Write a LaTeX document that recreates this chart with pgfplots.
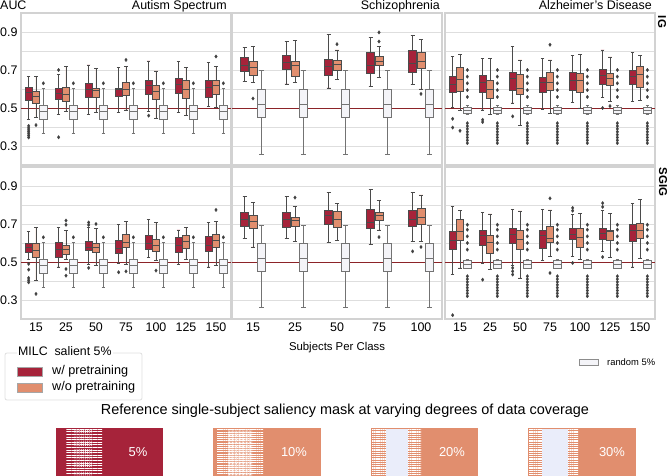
\documentclass[border=0pt]{standalone}
\usepackage{fontspec}
\setmainfont{Liberation Sans}
\usepackage{pgfplots}
\pgfplotsset{compat=1.18}
\usepgfplotslibrary{statistics}
\usetikzlibrary{patterns.meta}

\definecolor{cRed}{RGB}{166,35,58}
\definecolor{cSal}{RGB}{225,142,110}
\definecolor{cWht}{RGB}{244,244,248}
\definecolor{cLav}{RGB}{234,237,250}
\definecolor{cHalf}{RGB}{140,35,40}
\definecolor{gridc}{RGB}{222,222,222}
\definecolor{framec}{RGB}{210,210,210}
\definecolor{edgec}{RGB}{75,75,75}

\pgfplotsset{
  panel/.style={scale only axis, anchor=north west, width=210bp, height=152bp,
    ymin=0.2, ymax=1.0, ytick={0.3,0.5,0.7,0.9}, minor ytick={0.4,0.6,0.8},
    ymajorgrids, yminorgrids,
    major grid style={draw=gridc, line width=0.9pt},
    minor grid style={draw=gridc, line width=0.9pt},
    axis line style={draw=framec, line width=1.1pt},
    major tick length=0pt, minor tick length=0pt,
    tick label style={font=\fontsize{12.5}{14}\selectfont},
    /pgf/number format/assume math mode=true,
    yticklabel style={/pgf/number format/fixed, /pgf/number format/precision=1},
    boxplot/draw direction=y},
  seven/.style={xmin=-0.5, xmax=6.5, xtick={0,...,6},
    boxplot/box extend=0.24, boxplot/whisker extend=0.12},
  five/.style={xmin=-0.5, xmax=4.5, xtick={0,...,4},
    boxplot/box extend=0.19, boxplot/whisker extend=0.1},
  wp/.style={draw=edgec, fill=cRed, line width=0.7pt, mark=diamond*, mark size=1.8pt,
    mark options={draw=black!75, fill=black!75, line width=0.2pt}},
  np/.style={wp, fill=cSal},
  rp/.style={wp, draw=black!55, fill=cWht},
  half/.style={cHalf, line width=0.7pt, forget plot},
}
% style, position, lower whisker, lower quartile, median, upper quartile, upper whisker
\newcommand{\bx}[7]{\addplot[#1, boxplot prepared={draw position=#2, lower whisker=#3,
  lower quartile=#4, median=#5, upper quartile=#6, upper whisker=#7}] coordinates}

\begin{document}
\begin{tikzpicture}
\path[use as bounding box] (0,0) rectangle (668bp,-476bp);

% ---------------- row 1: IG ----------------
\begin{axis}[panel, seven, at={(21bp,-13bp)}, xticklabels={}]
\addplot[half] coordinates {(-0.5,0.5) (6.5,0.5)};
\bx{wp}{-0.245}{0.438}{0.540}{0.580}{0.611}{0.664}{(0,0.406)(0,0.395)(0,0.385)(0,0.375)(0,0.365)(0,0.355)(0,0.345)};
\bx{np}{0}{0.450}{0.523}{0.562}{0.588}{0.668}{(0,0.41)};
\bx{wp}{0.755}{0.465}{0.544}{0.576}{0.606}{0.677}{(1,0.70)(1,0.346)};
\bx{np}{1}{0.480}{0.534}{0.570}{0.611}{0.720}{};
\bx{wp}{1.755}{0.465}{0.558}{0.597}{0.630}{0.727}{};
\bx{np}{2}{0.477}{0.558}{0.594}{0.606}{0.707}{};
\bx{wp}{2.755}{0.477}{0.562}{0.597}{0.606}{0.712}{};
\bx{np}{3}{0.490}{0.567}{0.600}{0.633}{0.720}{(3,0.753)};
\bx{wp}{3.755}{0.480}{0.574}{0.619}{0.645}{0.748}{(4,0.46)};
\bx{np}{4}{0.447}{0.548}{0.588}{0.619}{0.695}{};
\bx{wp}{4.755}{0.477}{0.576}{0.624}{0.654}{0.744}{};
\bx{np}{5}{0.460}{0.550}{0.600}{0.647}{0.712}{};
\bx{wp}{5.755}{0.509}{0.558}{0.611}{0.647}{0.739}{};
\bx{np}{6}{0.505}{0.574}{0.619}{0.647}{0.720}{(6,0.771)};
\bx{rp}{0.245}{0.364}{0.438}{0.482}{0.512}{0.606}{(0,0.63)};
\bx{rp}{1.245}{0.364}{0.438}{0.482}{0.512}{0.606}{(1,0.63)};
\bx{rp}{2.245}{0.364}{0.438}{0.482}{0.512}{0.606}{(2,0.63)};
\bx{rp}{3.245}{0.364}{0.438}{0.482}{0.512}{0.606}{(3,0.63)};
\bx{rp}{4.245}{0.364}{0.438}{0.482}{0.512}{0.606}{(4,0.63)};
\bx{rp}{5.245}{0.364}{0.438}{0.482}{0.512}{0.606}{(5,0.63)};
\bx{rp}{6.245}{0.364}{0.438}{0.482}{0.512}{0.606}{(6,0.63)};
\end{axis}

\begin{axis}[panel, five, at={(232bp,-13bp)}, xticklabels={}, yticklabels={}]
\addplot[half] coordinates {(-0.5,0.5) (4.5,0.5)};
\bx{wp}{-0.2}{0.642}{0.695}{0.725}{0.769}{0.818}{};
\bx{np}{0}{0.636}{0.672}{0.716}{0.748}{0.822}{(0,0.55)};
\bx{wp}{0.8}{0.627}{0.703}{0.739}{0.778}{0.849}{};
\bx{np}{1}{0.633}{0.668}{0.725}{0.748}{0.854}{};
\bx{wp}{1.8}{0.606}{0.672}{0.721}{0.756}{0.889}{};
\bx{np}{2}{0.650}{0.698}{0.730}{0.751}{0.806}{(2,0.836)};
\bx{wp}{2.8}{0.615}{0.682}{0.727}{0.792}{0.872}{};
\bx{np}{3}{0.659}{0.725}{0.748}{0.774}{0.822}{(3,0.85)(3,0.898)};
\bx{wp}{3.8}{0.624}{0.689}{0.735}{0.806}{0.884}{};
\bx{np}{4}{0.600}{0.707}{0.748}{0.792}{0.859}{(4,0.574)};
\bx{rp}{0.2}{0.258}{0.452}{0.518}{0.600}{0.698}{};
\bx{rp}{1.2}{0.258}{0.452}{0.518}{0.600}{0.698}{};
\bx{rp}{2.2}{0.258}{0.452}{0.518}{0.600}{0.698}{};
\bx{rp}{3.2}{0.258}{0.452}{0.518}{0.600}{0.698}{};
\bx{rp}{4.2}{0.258}{0.452}{0.518}{0.600}{0.698}{};
\end{axis}

\begin{axis}[panel, seven, at={(445bp,-13bp)}, xticklabels={}, yticklabels={}]
\addplot[half] coordinates {(-0.5,0.5) (6.5,0.5)};
\bx{wp}{-0.245}{0.505}{0.580}{0.624}{0.668}{0.770}{(0,0.443)(0,0.397)};
\bx{np}{0}{0.488}{0.588}{0.650}{0.716}{0.783}{(0,0.38)};
\bx{wp}{0.755}{0.490}{0.580}{0.636}{0.672}{0.760}{(1,0.438)(1,0.426)};
\bx{np}{1}{0.465}{0.553}{0.600}{0.645}{0.760}{};
\bx{wp}{1.755}{0.527}{0.594}{0.657}{0.686}{0.822}{(2,0.456)};
\bx{np}{2}{0.410}{0.571}{0.606}{0.677}{0.753}{};
\bx{wp}{2.755}{0.495}{0.580}{0.633}{0.659}{0.760}{};
\bx{np}{3}{0.473}{0.594}{0.633}{0.689}{0.753}{(3,0.833)};
\bx{wp}{3.755}{0.530}{0.594}{0.645}{0.690}{0.778}{};
\bx{np}{4}{0.500}{0.583}{0.647}{0.680}{0.780}{};
\bx{wp}{4.755}{0.557}{0.624}{0.672}{0.703}{0.806}{(5,0.50)};
\bx{np}{5}{0.535}{0.619}{0.654}{0.682}{0.769}{(5,0.51)};
\bx{wp}{5.755}{0.535}{0.624}{0.668}{0.700}{0.792}{};
\bx{np}{6}{0.539}{0.611}{0.677}{0.718}{0.778}{};
\bx{rp}{0.245}{0.465}{0.472}{0.490}{0.505}{0.512}{(0,0.558)(0,0.594)(0,0.63)(0,0.665)(0,0.70)(0,0.42)(0,0.405)(0,0.39)(0,0.375)(0,0.36)(0,0.345)(0,0.33)(0,0.315)};
\bx{rp}{1.245}{0.465}{0.472}{0.490}{0.505}{0.512}{(1,0.558)(1,0.594)(1,0.63)(1,0.665)(1,0.70)(1,0.42)(1,0.405)(1,0.39)(1,0.375)(1,0.36)(1,0.345)(1,0.33)(1,0.315)};
\bx{rp}{2.245}{0.465}{0.472}{0.490}{0.505}{0.512}{(2,0.558)(2,0.594)(2,0.63)(2,0.665)(2,0.70)(2,0.42)(2,0.405)(2,0.39)(2,0.375)(2,0.36)(2,0.345)(2,0.33)(2,0.315)};
\bx{rp}{3.245}{0.465}{0.472}{0.490}{0.505}{0.512}{(3,0.558)(3,0.594)(3,0.63)(3,0.665)(3,0.70)(3,0.42)(3,0.405)(3,0.39)(3,0.375)(3,0.36)(3,0.345)(3,0.33)(3,0.315)};
\bx{rp}{4.245}{0.465}{0.472}{0.490}{0.505}{0.512}{(4,0.558)(4,0.594)(4,0.63)(4,0.665)(4,0.70)(4,0.42)(4,0.405)(4,0.39)(4,0.375)(4,0.36)(4,0.345)(4,0.33)(4,0.315)};
\bx{rp}{5.245}{0.465}{0.472}{0.490}{0.505}{0.512}{(5,0.558)(5,0.594)(5,0.63)(5,0.665)(5,0.70)(5,0.42)(5,0.405)(5,0.39)(5,0.375)(5,0.36)(5,0.345)(5,0.33)(5,0.315)};
\bx{rp}{6.245}{0.465}{0.472}{0.490}{0.505}{0.512}{(6,0.558)(6,0.594)(6,0.63)(6,0.665)(6,0.70)(6,0.42)(6,0.405)(6,0.39)(6,0.375)(6,0.36)(6,0.345)(6,0.33)(6,0.315)};
\end{axis}

% ---------------- row 2: SGIG ----------------
\begin{axis}[panel, seven, at={(21bp,-167bp)}, xticklabels={15,25,50,75,100,125,150}]
\addplot[half] coordinates {(-0.5,0.5) (6.5,0.5)};
\bx{wp}{-0.245}{0.512}{0.551}{0.579}{0.596}{0.660}{(0,0.49)(0,0.46)(0,0.416)(0,0.404)(0,0.393)};
\bx{np}{0}{0.404}{0.524}{0.561}{0.596}{0.683}{(0,0.332)};
\bx{wp}{0.755}{0.474}{0.526}{0.565}{0.603}{0.680}{};
\bx{np}{1}{0.512}{0.542}{0.568}{0.590}{0.666}{(1,0.718)(1,0.696)(1,0.463)(1,0.428)};
\bx{wp}{1.755}{0.486}{0.559}{0.579}{0.607}{0.680}{(2,0.708)(2,0.695)(2,0.469)};
\bx{np}{2}{0.480}{0.552}{0.579}{0.600}{0.678}{(2,0.70)};
\bx{wp}{2.755}{0.495}{0.547}{0.573}{0.612}{0.696}{(3,0.446)};
\bx{np}{3}{0.486}{0.579}{0.605}{0.648}{0.713}{(3,0.451)};
\bx{wp}{3.755}{0.526}{0.568}{0.596}{0.640}{0.722}{};
\bx{np}{4}{0.507}{0.556}{0.590}{0.620}{0.710}{(4,0.455)};
\bx{wp}{4.755}{0.486}{0.552}{0.590}{0.629}{0.669}{};
\bx{np}{5}{0.512}{0.573}{0.608}{0.638}{0.683}{};
\bx{wp}{5.755}{0.474}{0.556}{0.590}{0.634}{0.708}{};
\bx{np}{6}{0.480}{0.579}{0.612}{0.648}{0.713}{(6,0.774)};
\bx{rp}{0.245}{0.364}{0.438}{0.482}{0.512}{0.606}{(0,0.63)};
\bx{rp}{1.245}{0.364}{0.438}{0.482}{0.512}{0.606}{(1,0.63)};
\bx{rp}{2.245}{0.364}{0.438}{0.482}{0.512}{0.606}{(2,0.63)};
\bx{rp}{3.245}{0.364}{0.438}{0.482}{0.512}{0.606}{(3,0.63)};
\bx{rp}{4.245}{0.364}{0.438}{0.482}{0.512}{0.606}{(4,0.63)};
\bx{rp}{5.245}{0.364}{0.438}{0.482}{0.512}{0.606}{(5,0.63)};
\bx{rp}{6.245}{0.364}{0.438}{0.482}{0.512}{0.606}{(6,0.63)};
\end{axis}

\begin{axis}[panel, five, at={(232bp,-167bp)}, xticklabels={15,25,50,75,100}, yticklabels={}]
\addplot[half] coordinates {(-0.5,0.5) (4.5,0.5)};
\bx{wp}{-0.2}{0.622}{0.687}{0.725}{0.760}{0.844}{};
\bx{np}{0}{0.579}{0.678}{0.713}{0.748}{0.814}{};
\bx{wp}{0.8}{0.626}{0.682}{0.722}{0.760}{0.844}{};
\bx{np}{1}{0.608}{0.687}{0.718}{0.736}{0.792}{(1,0.839)};
\bx{wp}{1.8}{0.603}{0.699}{0.743}{0.771}{0.867}{};
\bx{np}{2}{0.612}{0.682}{0.725}{0.766}{0.809}{};
\bx{wp}{2.8}{0.594}{0.675}{0.710}{0.778}{0.883}{};
\bx{np}{3}{0.669}{0.718}{0.743}{0.762}{0.823}{(3,0.631)};
\bx{wp}{3.8}{0.608}{0.687}{0.722}{0.771}{0.865}{(4,0.556)};
\bx{np}{4}{0.608}{0.696}{0.736}{0.780}{0.853}{(4,0.579)};
\bx{rp}{0.2}{0.262}{0.451}{0.517}{0.600}{0.692}{};
\bx{rp}{1.2}{0.262}{0.451}{0.517}{0.600}{0.692}{};
\bx{rp}{2.2}{0.262}{0.451}{0.517}{0.600}{0.692}{};
\bx{rp}{3.2}{0.262}{0.451}{0.517}{0.600}{0.692}{};
\bx{rp}{4.2}{0.262}{0.451}{0.517}{0.600}{0.692}{};
\end{axis}

\begin{axis}[panel, seven, at={(445bp,-167bp)}, xticklabels={15,25,50,75,100,125,150}, yticklabels={}]
\addplot[half] coordinates {(-0.5,0.5) (6.5,0.5)};
\bx{wp}{-0.245}{0.434}{0.568}{0.614}{0.660}{0.792}{(0,0.22)};
\bx{np}{0}{0.469}{0.612}{0.660}{0.722}{0.771}{};
\bx{wp}{0.755}{0.495}{0.586}{0.638}{0.664}{0.762}{(1,0.407)};
\bx{np}{1}{0.463}{0.547}{0.603}{0.638}{0.753}{};
\bx{wp}{1.755}{0.480}{0.596}{0.643}{0.678}{0.778}{(2,0.469)(2,0.451)(2,0.434)};
\bx{np}{2}{0.416}{0.568}{0.617}{0.664}{0.769}{};
\bx{wp}{2.755}{0.507}{0.573}{0.638}{0.666}{0.778}{};
\bx{np}{3}{0.530}{0.603}{0.626}{0.687}{0.774}{(3,0.835)(3,0.442)};
\bx{wp}{3.755}{0.530}{0.617}{0.648}{0.678}{0.750}{(4,0.785)(4,0.770)(4,0.495)};
\bx{np}{4}{0.512}{0.579}{0.631}{0.678}{0.757}{};
\bx{wp}{4.755}{0.556}{0.617}{0.652}{0.678}{0.771}{(5,0.81)(5,0.79)(5,0.526)};
\bx{np}{5}{0.524}{0.612}{0.660}{0.669}{0.757}{};
\bx{wp}{5.755}{0.474}{0.608}{0.669}{0.699}{0.809}{};
\bx{np}{6}{0.521}{0.622}{0.669}{0.704}{0.830}{};
\bx{rp}{0.245}{0.465}{0.469}{0.490}{0.507}{0.512}{(0,0.565)(0,0.60)(0,0.635)(0,0.67)(0,0.696)(0,0.425)(0,0.41)(0,0.395)(0,0.38)(0,0.365)(0,0.35)(0,0.335)(0,0.32)};
\bx{rp}{1.245}{0.465}{0.469}{0.490}{0.507}{0.512}{(1,0.565)(1,0.60)(1,0.635)(1,0.67)(1,0.696)(1,0.425)(1,0.41)(1,0.395)(1,0.38)(1,0.365)(1,0.35)(1,0.335)(1,0.32)};
\bx{rp}{2.245}{0.465}{0.469}{0.490}{0.507}{0.512}{(2,0.565)(2,0.60)(2,0.635)(2,0.67)(2,0.696)(2,0.425)(2,0.41)(2,0.395)(2,0.38)(2,0.365)(2,0.35)(2,0.335)(2,0.32)};
\bx{rp}{3.245}{0.465}{0.469}{0.490}{0.507}{0.512}{(3,0.565)(3,0.60)(3,0.635)(3,0.67)(3,0.696)(3,0.425)(3,0.41)(3,0.395)(3,0.38)(3,0.365)(3,0.35)(3,0.335)(3,0.32)};
\bx{rp}{4.245}{0.465}{0.469}{0.490}{0.507}{0.512}{(4,0.565)(4,0.60)(4,0.635)(4,0.67)(4,0.696)(4,0.425)(4,0.41)(4,0.395)(4,0.38)(4,0.365)(4,0.35)(4,0.335)(4,0.32)};
\bx{rp}{5.245}{0.465}{0.469}{0.490}{0.507}{0.512}{(5,0.565)(5,0.60)(5,0.635)(5,0.67)(5,0.696)(5,0.425)(5,0.41)(5,0.395)(5,0.38)(5,0.365)(5,0.35)(5,0.335)(5,0.32)};
\bx{rp}{6.245}{0.465}{0.469}{0.490}{0.507}{0.512}{(6,0.565)(6,0.60)(6,0.635)(6,0.67)(6,0.696)(6,0.425)(6,0.41)(6,0.395)(6,0.38)(6,0.365)(6,0.35)(6,0.335)(6,0.32)};
\end{axis}

% ---------------- titles and labels ----------------
\begin{scope}[every node/.style={inner sep=0pt}]
\node[anchor=base west, font=\fontsize{12.5}{14}\selectfont] at (0bp,-9bp) {AUC};
\node[anchor=base east, font=\fontsize{12.5}{14}\selectfont] at (227bp,-9bp) {Autism Spectrum};
\node[anchor=base east, font=\fontsize{12.5}{14}\selectfont] at (440bp,-9bp) {Schizophrenia};
\node[anchor=base east, font=\fontsize{12.5}{14}\selectfont] at (652bp,-9bp) {Alzheimer's Disease};
\node[rotate=-90, font=\fontsize{11.5}{13}\selectfont\bfseries] at (662bp,-22bp) {IG};
\node[rotate=-90, font=\fontsize{11.5}{13}\selectfont\bfseries] at (663bp,-182bp) {SGIG};
\node[font=\fontsize{11.4}{13}\selectfont] at (337bp,-348bp) {Subjects Per Class};

% legend (MILC)
\draw[gray!25, line width=0.8pt, fill=white, rounded corners=2bp] (5bp,-353bp) rectangle (142bp,-400bp);
\node[anchor=west, fill=white, inner xsep=1bp, inner ysep=2bp, font=\fontsize{12.4}{14}\selectfont] at (17bp,-351bp) {MILC\ \ salient 5\%};
\fill[cRed, draw=black!35, line width=0.4pt] (17bp,-367bp) rectangle (42bp,-376bp);
\node[anchor=west, font=\fontsize{12.7}{14}\selectfont] at (52bp,-371.5bp) {w/ pretraining};
\fill[cSal, draw=black!35, line width=0.4pt] (17bp,-383bp) rectangle (42bp,-392bp);
\node[anchor=west, font=\fontsize{12.7}{14}\selectfont] at (52bp,-387.5bp) {w/o pretraining};

% legend (random)
\draw[black!45, fill=cWht, line width=0.5pt] (579bp,-359bp) rectangle (598bp,-365bp);
\node[anchor=west, font=\fontsize{9.4}{11}\selectfont] at (607bp,-362bp) {random 5\%};

% saliency masks
\node[font=\fontsize{14.5}{16}\selectfont] at (345bp,-411bp) {Reference single-subject saliency mask at varying degrees of data coverage};

\fill[cRed] (56bp,-428bp) rectangle (163bp,-476bp);
\fill[pattern={Lines[angle=0, distance=2.6bp, line width=0.6bp]}, pattern color=white] (66bp,-429bp) rectangle (102bp,-476bp);
\fill[pattern={Dots[distance=1.9bp, radius=0.5bp]}, pattern color=white] (74bp,-429bp) rectangle (92bp,-476bp);
\node[text=white, font=\fontsize{13}{15}\selectfont] at (138bp,-452bp) {5\%};

\fill[cSal] (213bp,-428bp) rectangle (321bp,-476bp);
\fill[pattern={Lines[angle=0, distance=2.2bp, line width=0.7bp]}, pattern color=white] (217bp,-429bp) rectangle (263bp,-476bp);
\fill[pattern={Dots[distance=1.4bp, radius=0.55bp]}, pattern color=white] (228bp,-429bp) rectangle (252bp,-476bp);
\node[text=white, font=\fontsize{13}{15}\selectfont] at (294bp,-452bp) {10\%};

\fill[cSal] (371bp,-428bp) rectangle (478bp,-476bp);
\fill[pattern={Lines[angle=0, distance=1.8bp, line width=0.8bp]}, pattern color=white] (372bp,-429bp) rectangle (421bp,-476bp);
\fill[cLav] (386bp,-429bp) rectangle (408bp,-476bp);
\node[text=white, font=\fontsize{13}{15}\selectfont] at (452bp,-452bp) {20\%};

\fill[cSal] (528bp,-428bp) rectangle (636bp,-476bp);
\fill[pattern={Lines[angle=0, distance=1.8bp, line width=0.8bp]}, pattern color=white] (529bp,-429bp) rectangle (578bp,-476bp);
\fill[cLav] (542bp,-429bp) rectangle (568bp,-476bp);
\node[text=white, font=\fontsize{13}{15}\selectfont] at (612bp,-452bp) {30\%};
\end{scope}
\end{tikzpicture}
\end{document}
